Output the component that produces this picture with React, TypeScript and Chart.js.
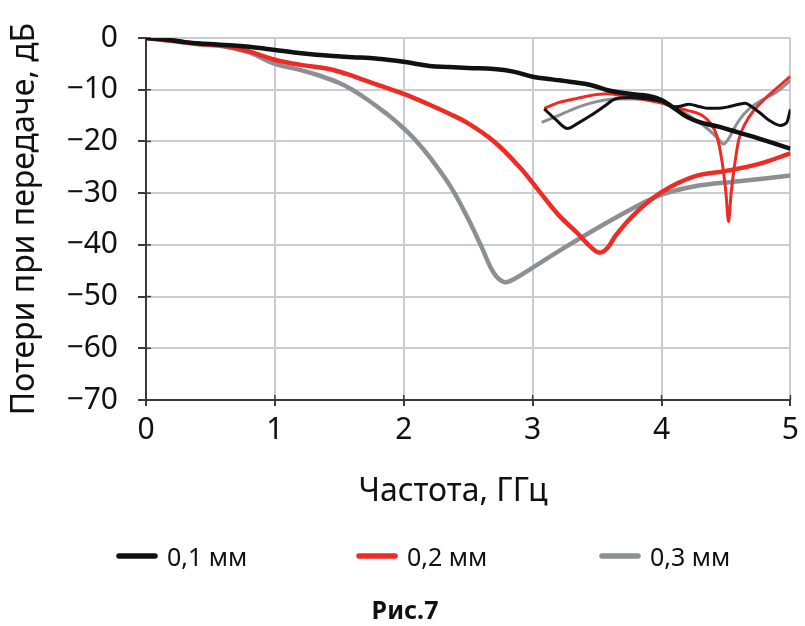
import { useEffect, useRef } from "react";
import { Chart, registerables } from "chart.js";

Chart.register(...registerables);

// Axis settings
const X_MIN = 0;
const X_MAX = 5;
const Y_MIN = -70;
const Y_MAX = 0;
const xTickValues = [0, 1, 2, 3, 4, 5];
const yTickValues = [0, -10, -20, -30, -40, -50, -60, -70];

const xTitle = "Частота, ГГц";
const yTitle = "Потери при передаче, дБ";
const caption = "Рис.7";

const seriesLabels = ["0,1 мм", "0,2 мм", "0,3 мм"];
const seriesColors = ["#111111", "#ee2b25", "#8d8f94"];

// Transmission loss, 0.1 mm
const freq01 = [0, 0.15, 0.3, 0.45, 0.65, 0.8, 0.9, 1.0, 1.15, 1.3, 1.45, 1.6, 1.8, 2.0, 2.2, 2.35, 2.5, 2.7, 2.85, 3.0, 3.15, 3.3, 3.45, 3.6, 3.75, 3.9, 4.0, 4.1, 4.2, 4.3, 4.45, 4.6, 4.8, 5.0];
const loss01 = [0, -0.3, -0.8, -1.1, -1.4, -1.7, -2.0, -2.3, -2.8, -3.2, -3.5, -3.7, -4.0, -4.6, -5.4, -5.6, -5.8, -6.0, -6.5, -7.5, -8.0, -8.5, -9.1, -10.2, -10.8, -11.2, -12.0, -13.6, -15.3, -16.3, -17.2, -18.3, -19.8, -21.4];

// Transmission loss, 0.2 mm
const freq02 = [0, 0.2, 0.4, 0.6, 0.8, 1.0, 1.2, 1.4, 1.55, 1.7, 1.85, 2.0, 2.2, 2.35, 2.5, 2.7, 2.9, 3.05, 3.2, 3.35, 3.45, 3.52, 3.58, 3.65, 3.8, 4.0, 4.25, 4.5, 4.75, 5.0];
const loss02 = [0, -0.5, -1.1, -1.5, -2.6, -4.2, -5.2, -5.9, -6.9, -8.2, -9.5, -10.8, -12.9, -14.6, -16.5, -20.0, -25.0, -29.6, -34.2, -37.8, -40.4, -41.5, -40.6, -38.0, -33.8, -29.8, -26.8, -25.7, -24.4, -22.3];

// Transmission loss, 0.3 mm
const freq03 = [0, 0.2, 0.4, 0.6, 0.8, 1.0, 1.2, 1.35, 1.5, 1.6, 1.7, 1.8, 1.9, 2.0, 2.1, 2.2, 2.36, 2.5, 2.6, 2.7, 2.78, 2.85, 3.0, 3.25, 3.5, 3.75, 4.0, 4.25, 4.6, 5.0];
const loss03 = [0, -0.6, -1.2, -1.6, -2.8, -5.0, -6.2, -7.3, -8.7, -10.0, -11.6, -13.4, -15.3, -17.5, -20.0, -23.0, -28.6, -35.0, -40.2, -45.5, -47.2, -46.7, -44.4, -40.5, -36.8, -33.3, -30.3, -28.7, -27.7, -26.6];

// Second branch above 3 GHz, 0.1 mm
const freq01b = [3.09, 3.18, 3.27, 3.35, 3.45, 3.55, 3.64, 3.75, 3.9, 4.0, 4.1, 4.16, 4.21, 4.3, 4.36, 4.44, 4.52, 4.6, 4.65, 4.7, 4.76, 4.84, 4.92, 4.97, 5.0];
const loss01b = [-13.7, -15.8, -17.5, -16.5, -15.0, -13.3, -11.8, -11.5, -11.8, -12.3, -13.3, -13.1, -12.8, -13.3, -13.6, -13.6, -13.3, -12.8, -12.6, -13.3, -14.4, -16.0, -16.9, -16.4, -13.8];

// Second branch above 3 GHz, 0.2 mm
const freq02b = [3.09, 3.2, 3.32, 3.45, 3.58, 3.7, 3.84, 4.0, 4.1, 4.2, 4.31, 4.38, 4.43, 4.47, 4.5, 4.52, 4.54, 4.57, 4.6, 4.65, 4.71, 4.8, 4.89, 5.0];
const loss02b = [-13.6, -12.5, -11.8, -11.1, -10.8, -11.2, -11.8, -12.6, -13.4, -14.0, -14.9, -16.5, -19.0, -24.0, -30.0, -35.5, -30.0, -24.0, -19.6, -16.5, -14.2, -11.8, -9.8, -7.4];

// Second branch above 3 GHz, 0.3 mm
const freq03b = [3.07, 3.2, 3.32, 3.45, 3.64, 3.8, 3.98, 4.1, 4.24, 4.36, 4.44, 4.48, 4.52, 4.56, 4.62, 4.68, 4.78, 4.89, 5.0];
const loss03b = [-16.3, -15.0, -13.7, -12.6, -11.8, -11.8, -12.4, -13.4, -15.4, -17.6, -19.5, -20.5, -19.5, -17.6, -15.3, -13.7, -12.0, -10.5, -8.2];

const FONT = "'Noto Sans', 'DejaVu Sans', sans-serif";
const GRID_COLOR = "#cbccd1";
const AXIS_COLOR = "#3a3a3a";

const toPoints = (xs: number[], ys: number[]) => xs.map((x, i) => ({ x, y: ys[i] }));

const formatTick = (v: number) => (v < 0 ? "\u2212" + Math.abs(v) : String(v));

// Draws the inner halves of the tick marks so they cross the axes
const innerTicks = {
  id: "innerTicks",
  beforeDatasetsDraw(chart: any) {
    const { ctx, chartArea, scales } = chart;
    ctx.save();
    ctx.strokeStyle = AXIS_COLOR;
    ctx.lineWidth = 1.5;
    for (const v of yTickValues) {
      const y = scales.y.getPixelForValue(v);
      ctx.beginPath();
      ctx.moveTo(chartArea.left, y);
      ctx.lineTo(chartArea.left + 5, y);
      ctx.stroke();
    }
    for (const v of xTickValues) {
      const x = scales.x.getPixelForValue(v);
      ctx.beginPath();
      ctx.moveTo(x, chartArea.bottom);
      ctx.lineTo(x, chartArea.bottom - 5);
      ctx.stroke();
    }
    ctx.restore();
  },
};

// X-axis title, legend row and figure caption
const footerTexts = {
  id: "footerTexts",
  afterDraw(chart: any) {
    const { ctx } = chart;
    ctx.save();
    ctx.fillStyle = "#111";
    ctx.textBaseline = "middle";
    ctx.textAlign = "center";
    ctx.font = `32px ${FONT}`;
    ctx.fillText(xTitle, 453, 492);

    const legendX = [117, 357, 600];
    ctx.font = `25px ${FONT}`;
    ctx.textAlign = "left";
    seriesLabels.forEach((label, i) => {
      const x = legendX[i];
      ctx.strokeStyle = seriesColors[i];
      ctx.lineWidth = 5.5;
      ctx.lineCap = "round";
      ctx.beginPath();
      ctx.moveTo(x + 2, 556);
      ctx.lineTo(x + 38, 556);
      ctx.stroke();
      ctx.fillStyle = "#111";
      ctx.fillText(label, x + 50, 559);
    });

    ctx.font = `bold 25px ${FONT}`;
    ctx.textAlign = "center";
    ctx.fillText(caption, 405, 612);
    ctx.restore();
  },
};

export default function App() {
  const canvasRef = useRef<HTMLCanvasElement | null>(null);

  useEffect(() => {
    if (!canvasRef.current) return;
    const mainSets = [
      toPoints(freq01, loss01),
      toPoints(freq02, loss02),
      toPoints(freq03, loss03),
    ];
    const branchSets = [
      toPoints(freq01b, loss01b),
      toPoints(freq02b, loss02b),
      toPoints(freq03b, loss03b),
    ];
    const datasets: any[] = [];
    // black first so it is painted on top
    for (let i = 0; i < 3; i++) {
      datasets.push({
        label: seriesLabels[i],
        data: mainSets[i],
        borderColor: seriesColors[i],
        backgroundColor: seriesColors[i],
        borderWidth: 4.5,
        pointRadius: 0,
        tension: 0.4,
        fill: false,
      });
      datasets.push({
        label: seriesLabels[i] + " (2)",
        data: branchSets[i],
        borderColor: seriesColors[i],
        backgroundColor: seriesColors[i],
        borderWidth: 3,
        pointRadius: 0,
        cubicInterpolationMode: "monotone",
        fill: false,
      });
    }

    const chart = new Chart(canvasRef.current, {
      type: "line",
      data: { datasets },
      options: {
        animation: false,
        responsive: false,
        devicePixelRatio: 1,
        layout: { padding: { left: 0, top: 36, right: 14, bottom: 106 } },
        plugins: {
          legend: { display: false },
          tooltip: { enabled: false },
        },
        scales: {
          x: {
            type: "linear",
            min: X_MIN,
            max: X_MAX,
            afterBuildTicks: (scale: any) => {
              scale.ticks = xTickValues.map((value) => ({ value }));
            },
            afterFit: (scale: any) => {
              scale.height = 120;
            },
            ticks: {
              font: { family: FONT, size: 30 },
              color: "#111",
              padding: 6,
              maxRotation: 0,
              callback: (v: any) => formatTick(Number(v)),
            },
            grid: {
              color: GRID_COLOR,
              lineWidth: 2,
              tickColor: AXIS_COLOR,
              tickLength: 6,
            },
            border: { color: AXIS_COLOR, width: 2 },
          },
          y: {
            type: "linear",
            min: Y_MIN,
            max: Y_MAX,
            afterBuildTicks: (scale: any) => {
              scale.ticks = yTickValues.map((value) => ({ value }));
            },
            afterFit: (scale: any) => {
              scale.width = 146;
            },
            ticks: {
              font: { family: FONT, size: 30 },
              color: "#111",
              padding: 20,
              callback: (v: any) => formatTick(Number(v)),
            },
            grid: {
              color: GRID_COLOR,
              lineWidth: 2,
              tickColor: AXIS_COLOR,
              tickLength: 8,
            },
            border: { color: AXIS_COLOR, width: 2 },
            title: {
              display: true,
              text: yTitle,
              color: "#111",
              font: { family: FONT, size: 32 },
              padding: { top: 6, bottom: 0 },
            },
          },
        },
      },
      plugins: [innerTicks, footerTexts],
    });
    return () => chart.destroy();
  }, []);

  return (
    <div style={{ position: "fixed", left: 0, top: 0, width: 805, height: 626, background: "#fff" }}>
      <canvas ref={canvasRef} width={805} height={626} />
    </div>
  );
}
